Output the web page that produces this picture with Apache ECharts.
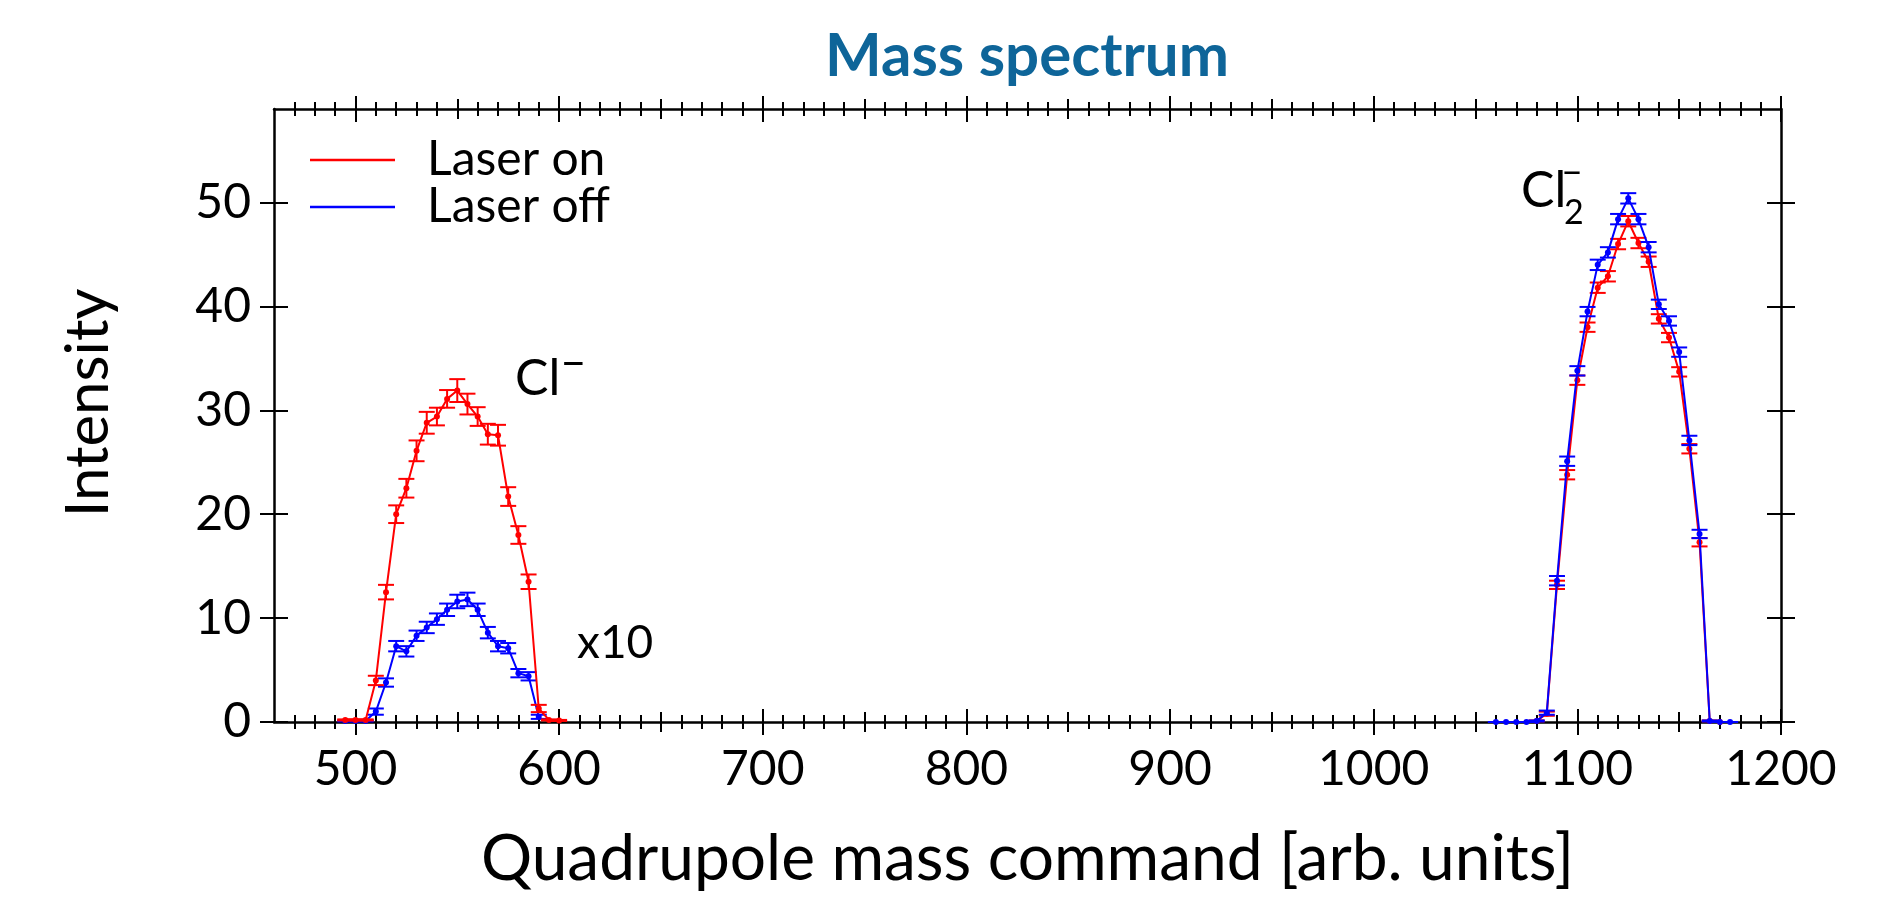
<!DOCTYPE html>
<html><head><meta charset="utf-8">
<script src="https://cdn.jsdelivr.net/npm/echarts@6/dist/echarts.min.js"></script>
<style>html,body{margin:0;padding:0;background:#fff}#c{width:1897px;height:901px}</style>
</head><body><div id="c"></div>
<script>
// ---- data ----
// Cl- peak, laser on (red)
const xClOn  = [495,500,505,510,515,520,525,530,535,540,545,550,555,560,565,570,575,580,585,590,595,600];
const yClOn  = [0.2,0.2,0.2,4.0,12.5,20.0,22.5,26.1,28.8,29.4,31.1,31.9,30.6,29.4,27.7,27.6,21.7,18.0,13.5,1.3,0.2,0.15];
const eClOn  = [0.05,0.05,0.05,0.45,0.7,0.85,0.9,1.0,1.05,0.85,0.85,1.1,1.0,0.9,1.0,1.0,0.9,0.85,0.7,0.35,0.05,0.05];
// Cl- peak, laser off (blue, x10)
const xClOff = [495,500,505,510,515,520,525,530,535,540,545,550,555,560,565,570,575,580,585,590];
const yClOff = [0.1,0.1,0.1,1.0,3.8,7.3,6.8,8.3,9.1,9.9,10.8,11.6,11.8,10.8,8.6,7.3,7.1,4.7,4.4,0.5];
const eClOff = [0.05,0.05,0.05,0.3,0.4,0.5,0.5,0.5,0.55,0.55,0.6,0.65,0.65,0.6,0.55,0.5,0.5,0.4,0.4,0.2];
// Cl2- peak, laser on (red)
const xCl2On = [1080,1085,1090,1095,1100,1105,1110,1115,1120,1125,1130,1135,1140,1145,1150,1155,1160,1165,1170];
const yCl2On = [0.1,0.8,13.2,23.8,32.9,38.0,41.8,42.9,46.0,48.2,46.1,44.3,38.8,37.0,33.7,26.3,17.3,0.1,0];
const eCl2On = [0.05,0.2,0.4,0.45,0.45,0.45,0.5,0.5,0.5,0.5,0.5,0.5,0.45,0.45,0.45,0.45,0.4,0.05,0];
// Cl2- peak, laser off (blue)
const xCl2Off = [1060,1065,1070,1075,1080,1085,1090,1095,1100,1105,1110,1115,1120,1125,1130,1135,1140,1145,1150,1155,1160,1165,1170,1175];
const yCl2Off = [0,0,0,0,0.1,0.9,13.6,25.1,33.8,39.5,44.0,45.2,48.4,50.4,48.4,45.7,40.2,38.6,35.6,27.1,18.1,0.1,0,0];
const eCl2Off = [0,0,0,0,0.05,0.2,0.45,0.45,0.45,0.45,0.5,0.5,0.5,0.5,0.5,0.5,0.45,0.45,0.45,0.45,0.4,0.05,0,0];

const xTickLabels = [500,600,700,800,900,1000,1100,1200];
const yTickLabels = [0,10,20,30,40,50];
const seriesNames = ['Laser on','Laser off'];

// ---- layout / style ----
const X_MIN = 460, X_MAX = 1200, Y_MIN = 0, Y_MAX = 59;
const FONT = 'Lato';
const RED = '#ff0000', BLUE = '#0000ff';

const xMajor = xTickLabels.slice();
const xMedium = [], xMinor = [];
for (let v = 470; v < X_MAX; v += 10) {
  if (v % 100 === 0) continue;
  if (v % 50 === 0) xMedium.push(v); else xMinor.push(v);
}

function xTickAxis(pos, values, L) {
  return {
    type: 'value', position: pos, min: X_MIN, max: X_MAX, interval: 10, offset: -L,
    axisLine: {show: false, onZero: false},
    axisLabel: {show: false}, splitLine: {show: false},
    axisTick: {show: true, inside: false, length: 2 * L, customValues: values,
               lineStyle: {color: '#000', width: 2}}
  };
}
function yTickAxis(pos, L) {
  return {
    type: 'value', position: pos, min: Y_MIN, max: Y_MAX, interval: 10, offset: -L,
    axisLine: {show: false, onZero: false},
    axisLabel: {show: false}, splitLine: {show: false},
    axisTick: {show: true, inside: false, length: 2 * L, customValues: yTickLabels,
               lineStyle: {color: '#000', width: 2}}
  };
}

const xAxes = [
  { type: 'value', position: 'bottom', min: X_MIN, max: X_MAX, interval: 10,
    axisLine: {show: true, onZero: false, lineStyle: {color: '#000', width: 2.5}},
    axisTick: {show: false}, splitLine: {show: false},
    axisLabel: {show: true, customValues: xTickLabels, margin: 24,
                formatter: v => String(v),
                color: '#000', fontFamily: FONT, fontSize: 48},
    name: 'Quadrupole mass command [arb. units]', nameLocation: 'middle', nameGap: 105,
    nameTextStyle: {color: '#000', fontFamily: FONT, fontSize: 64}
  },
  { type: 'value', position: 'top', min: X_MIN, max: X_MAX, interval: 10,
    axisLine: {show: true, onZero: false, lineStyle: {color: '#000', width: 2.5}},
    axisTick: {show: false}, axisLabel: {show: false}, splitLine: {show: false}
  },
  xTickAxis('bottom', xMajor, 13), xTickAxis('bottom', xMedium, 10), xTickAxis('bottom', xMinor, 7),
  xTickAxis('top', xMajor, 13), xTickAxis('top', xMedium, 10), xTickAxis('top', xMinor, 7)
];
const yAxes = [
  { type: 'value', position: 'left', min: Y_MIN, max: Y_MAX, interval: 10,
    axisLine: {show: true, onZero: false, lineStyle: {color: '#000', width: 2.5}},
    axisTick: {show: false}, splitLine: {show: false},
    axisLabel: {show: true, customValues: yTickLabels, margin: 23,
                formatter: v => String(v),
                color: '#000', fontFamily: FONT, fontSize: 48}
  },
  { type: 'value', position: 'right', min: Y_MIN, max: Y_MAX, interval: 10,
    axisLine: {show: true, onZero: false, lineStyle: {color: '#000', width: 2.5}},
    axisTick: {show: false}, axisLabel: {show: false}, splitLine: {show: false}
  },
  yTickAxis('left', 14), yTickAxis('right', 14)
];

function lineSeries(name, xs, ys, color, z) {
  return {
    type: 'line', name: name, xAxisIndex: 0, yAxisIndex: 0, z: z,
    data: xs.map((x, i) => [x, ys[i]]),
    symbol: 'circle', symbolSize: 6, showSymbol: true,
    lineStyle: {color: color, width: 2}, itemStyle: {color: color},
    emphasis: {disabled: true}, animation: false, clip: true
  };
}
function errSeries(xs, ys, es, color, z) {
  return {
    type: 'custom', xAxisIndex: 0, yAxisIndex: 0, z: z, silent: true,
    data: xs.map((x, i) => [x, ys[i], es[i]]),
    encode: {x: 0, y: 1},
    renderItem: function (params, api) {
      const x = api.value(0), y = api.value(1), e = api.value(2);
      const lo = api.coord([x, y - e]), hi = api.coord([x, y + e]);
      const w = 8, st = {stroke: color, lineWidth: 2};
      return {type: 'group', children: [
        {type: 'line', shape: {x1: lo[0], y1: lo[1], x2: hi[0], y2: hi[1]}, style: st},
        {type: 'line', shape: {x1: lo[0] - w, y1: lo[1], x2: lo[0] + w, y2: lo[1]}, style: st},
        {type: 'line', shape: {x1: hi[0] - w, y1: hi[1], x2: hi[0] + w, y2: hi[1]}, style: st}
      ]};
    }
  };
}

const txt = (text, x, y, size, extra) => ({
  type: 'text', x: x, y: y, silent: true,
  style: Object.assign({text: text, fill: '#000', font: size + 'px ' + FONT,
                        textAlign: 'left', textVerticalAlign: 'middle'}, extra || {})
});

const option = {
  animation: false,
  backgroundColor: '#fff',
  title: {
    text: 'Mass spectrum', left: 1022, top: 22, textAlign: 'center',
    textStyle: {color: '#0e6599', fontFamily: FONT, fontWeight: 'bold', fontSize: 60}
  },
  legend: {
    orient: 'vertical', left: 305, top: 131, itemGap: -1,
    itemWidth: 85, itemHeight: 2.5,
    data: [{name: seriesNames[0], icon: 'rect'}, {name: seriesNames[1], icon: 'rect'}],
    textStyle: {color: '#000', fontFamily: FONT, fontSize: 48, lineHeight: 48, padding: [0, 0, 0, 27]},
    selectedMode: false
  },
  grid: {left: 274, right: 116, top: 109, bottom: 179, containLabel: false},
  xAxis: xAxes,
  yAxis: yAxes,
  series: [
    errSeries(xClOff, yClOff, eClOff, BLUE, 2), lineSeries(seriesNames[1], xClOff, yClOff, BLUE, 2),
    errSeries(xClOn, yClOn, eClOn, RED, 3),     lineSeries(seriesNames[0], xClOn, yClOn, RED, 3),
    errSeries(xCl2On, yCl2On, eCl2On, RED, 4),  lineSeries(seriesNames[0], xCl2On, yCl2On, RED, 4),
    errSeries(xCl2Off, yCl2Off, eCl2Off, BLUE, 5), lineSeries(seriesNames[1], xCl2Off, yCl2Off, BLUE, 5)
  ],
  graphic: [
    txt('Intensity', 89, 403, 60, {textAlign: 'center'}),
    txt('Cl', 515, 379, 50),
    txt('\u2013', 560, 362, 46),
    txt('Cl', 1521, 191, 50),
    txt('2', 1564, 213, 34),
    txt('\u2013', 1561, 172, 38),
    txt('x10', 577, 643, 46)
  ]
};
// rotate y-axis name
option.graphic[0].rotation = Math.PI / 2;

const chart = echarts.init(document.getElementById('c'), null, {renderer: 'canvas'});
chart.setOption(option);
</script>
</body></html>
